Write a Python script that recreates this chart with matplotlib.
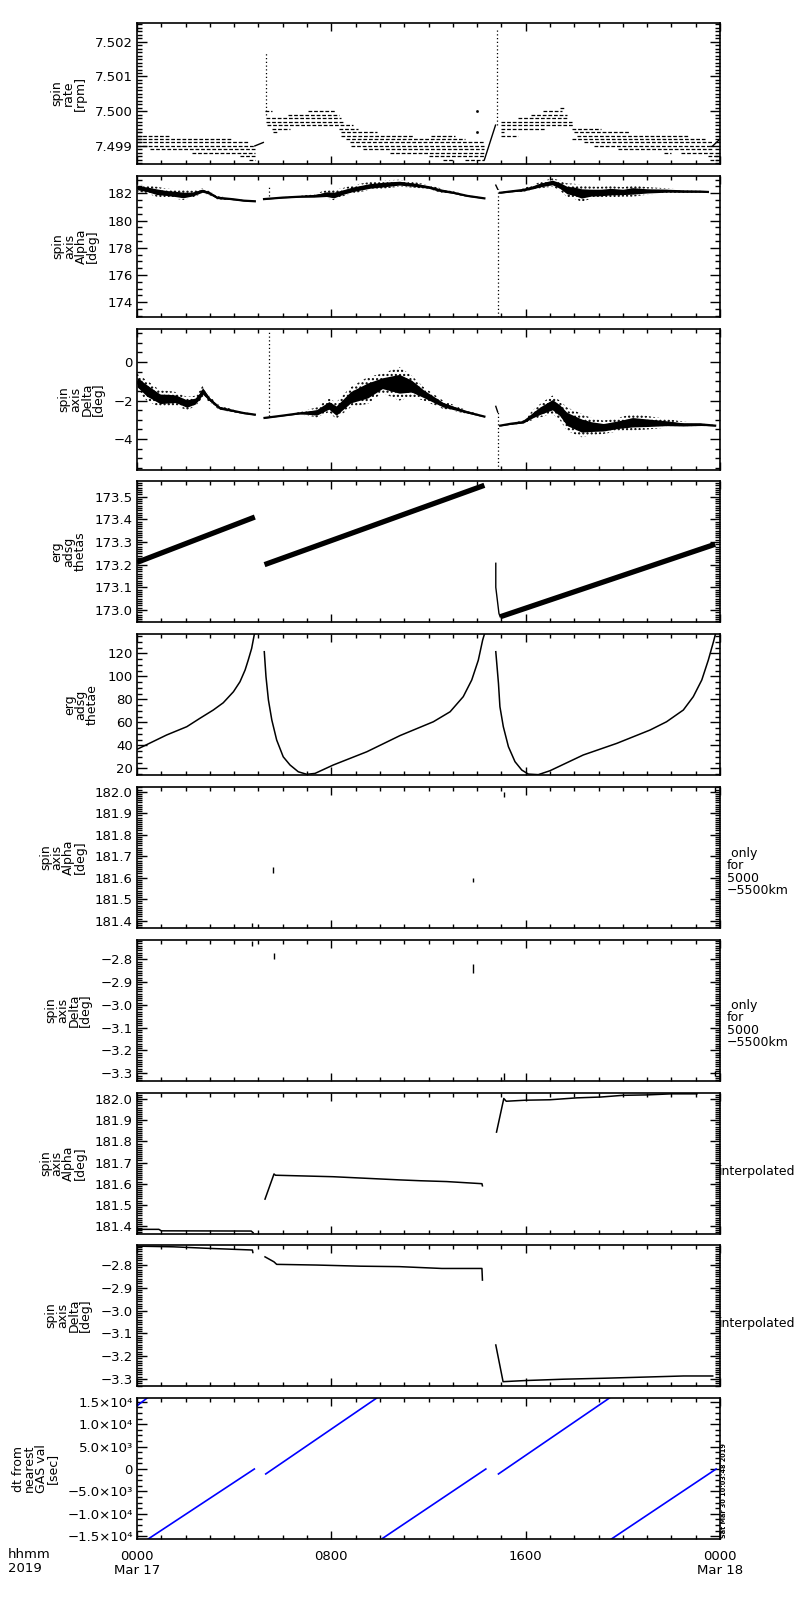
import numpy as np
import matplotlib
matplotlib.use('Agg')
import matplotlib.pyplot as plt
from matplotlib.ticker import MultipleLocator, FixedLocator, FuncFormatter, FormatStrFormatter

plt.rcParams['font.family'] = ['DejaVu Sans']
plt.rcParams['hatch.linewidth'] = 1.0

# ---------------- data (time in hours since 2019-03-17 00:00) ----------------
x_major = [0, 8, 16, 24]
x_labels = ['0000\nMar 17', '0800', '1600', '0000\nMar 18']

# panel 1: spin rate, quantised levels (segments)
rate_t0 = [0.0, 0.0, 0.0, 0.0, 0.0, 0.55, 2.25, 4.25, 4.6,
           5.25, 7.05, 6.2, 5.3, 5.3, 5.35, 5.55, 5.6,
           8.3, 8.4, 8.4, 12.1, 8.6, 8.75, 8.8, 9.3, 10.4, 12.0, 12.6, 13.5,
           17.4, 16.7, 16.2, 15.7, 15.0, 15.0, 15.0, 17.9, 15.0, 18.0, 15.0, 18.1,
           17.9, 18.4, 18.8, 19.8, 21.7, 22.4, 23.5, 23.6]
rate_t1 = [0.2, 1.3, 3.9, 4.6, 4.85, 4.85, 4.85, 4.85, 4.85,
           5.55, 8.15, 8.3, 8.4, 8.5, 8.9, 6.3, 5.8,
           9.1, 9.9, 11.4, 13.1, 13.5, 14.3, 14.3, 14.3, 14.3, 14.3, 13.0, 14.3,
           17.6, 17.5, 17.7, 17.75, 17.9, 18.0, 16.8, 19.1, 15.1, 20.3, 15.7, 22.7,
           23.4, 23.7, 23.7, 23.7, 22.0, 23.7, 23.9, 23.9]
rate_val = [7.4994, 7.4993, 7.4992, 7.4991, 7.4990, 7.4989, 7.4988, 7.4987, 7.4986,
            7.5000, 7.5000, 7.4999, 7.4998, 7.4997, 7.4996, 7.4995, 7.4994,
            7.4995, 7.4994, 7.4993, 7.4993, 7.4992, 7.4991, 7.4990, 7.4989, 7.4988, 7.4987, 7.4986, 7.4986,
            7.5001, 7.5000, 7.4999, 7.4998, 7.4997, 7.4996, 7.4995, 7.4995, 7.4994, 7.4994, 7.4993, 7.4993,
            7.4992, 7.4991, 7.4990, 7.4989, 7.4988, 7.4988, 7.4987, 7.4986]
rate_ramp_t0 = [4.85, 14.3, 23.7]
rate_ramp_v0 = [7.4990, 7.4986, 7.4990]
rate_ramp_t1 = [5.2, 14.76, 24.0]
rate_ramp_v1 = [7.4991, 7.4996, 7.4992]
rate_spk_t = [5.3, 14.8]
rate_spk_lo = [7.4999, 7.4996]
rate_spk_hi = [7.5017, 7.5024]
rate_dot_t = [14.0, 14.0]
rate_dot_v = [7.5000, 7.4994]

# panel 2: spin axis alpha (envelope of scattered points)
alpha_t1 = [0, 0.4, 0.8, 1.2, 1.6, 1.9, 2.3, 2.7, 3.0, 3.3, 3.95, 4.4, 4.85]
alpha_lo1 = [182.15, 182.0, 181.75, 181.7, 181.6, 181.51, 181.7, 182.0, 181.85, 181.56, 181.5, 181.42, 181.38]
alpha_hi1 = [182.65, 182.6, 182.49, 182.35, 182.3, 182.24, 182.2, 182.37, 182.15, 181.8, 181.63, 181.5, 181.45]
alpha_t2 = [5.23, 6.0, 6.7, 7.3, 7.8, 8.1, 8.5, 8.9, 9.6, 10.2, 10.8, 11.5, 12.0, 12.5, 13.0, 13.6, 14.3]
alpha_lo2 = [181.55, 181.65, 181.7, 181.65, 181.63, 181.5, 181.8, 182.0, 182.24, 182.35, 182.49, 182.4, 182.3, 182.05, 181.95, 181.75, 181.6]
alpha_hi2 = [181.6, 181.72, 181.8, 181.95, 182.24, 182.24, 182.4, 182.6, 182.85, 182.95, 183.0, 182.8, 182.6, 182.37, 182.15, 181.87, 181.66]
alpha_t3 = [14.95, 15.4, 15.9, 16.3, 16.6, 17.1, 17.4, 17.7, 18.0, 18.3, 18.7, 19.1, 19.5, 20.0, 20.4, 21.0, 21.8, 22.5, 23.2, 23.5]
alpha_lo3 = [182.0, 182.08, 182.12, 182.25, 182.37, 182.49, 182.2, 181.75, 181.6, 181.38, 181.6, 181.63, 181.7, 181.75, 181.75, 181.9, 182.0, 182.03, 182.05, 182.07]
alpha_hi3 = [182.08, 182.2, 182.37, 182.6, 182.85, 183.1, 182.95, 182.73, 182.7, 182.6, 182.5, 182.49, 182.55, 182.45, 182.6, 182.45, 182.37, 182.25, 182.2, 182.13]
alpha_spk_t = [5.45, 14.87]
alpha_spk_lo = [181.8, 172.9]
alpha_spk_hi = [182.6, 182.3]
alpha_hook_t = [14.77, 14.85]
alpha_hook_v = [182.6, 182.3]

# panel 3: spin axis delta (envelope)
delta_t1 = [0, 0.4, 0.95, 1.3, 1.6, 2.05, 2.4, 2.6, 2.7, 3.0, 3.4, 3.95, 4.4, 4.85]
delta_lo1 = [-1.47, -2.0, -2.35, -2.3, -2.26, -2.5, -2.3, -2.0, -1.8, -2.1, -2.5, -2.6, -2.7, -2.76]
delta_hi1 = [-0.6, -0.95, -1.47, -1.5, -1.56, -1.81, -1.75, -1.47, -1.2, -1.8, -2.26, -2.46, -2.6, -2.70]
delta_t2 = [5.25, 6.0, 6.7, 7.1, 7.4, 7.9, 8.2, 8.8, 9.5, 10.1, 10.8, 11.3, 11.8, 12.6, 13.6, 14.3]
delta_lo2 = [-2.92, -2.8, -2.72, -2.8, -2.87, -2.6, -2.95, -2.35, -2.17, -1.6, -2.0, -1.8, -2.0, -2.43, -2.69, -2.86]
delta_hi2 = [-2.88, -2.76, -2.6, -2.45, -2.35, -1.9, -2.09, -1.3, -0.78, -0.6, -0.26, -0.7, -1.3, -2.0, -2.52, -2.80]
delta_t3 = [14.95, 15.4, 15.9, 16.3, 16.6, 17.1, 17.4, 17.7, 18.3, 18.7, 19.2, 19.8, 20.4, 21.0, 21.8, 22.5, 23.2, 23.8]
delta_lo3 = [-3.32, -3.25, -3.2, -3.0, -2.87, -2.69, -3.0, -3.56, -3.9, -3.8, -3.73, -3.6, -3.56, -3.5, -3.4, -3.38, -3.34, -3.32]
delta_hi3 = [-3.28, -3.15, -3.04, -2.5, -2.17, -1.74, -2.0, -2.35, -2.69, -2.9, -3.04, -2.9, -2.69, -2.8, -2.95, -3.1, -3.13, -3.28]
delta_spk_t = [5.45, 14.87]
delta_spk_lo = [-2.8, -5.6]
delta_spk_hi = [1.65, -2.6]
delta_hook_t = [14.77, 14.85]
delta_hook_v = [-2.3, -2.6]

# panel 4: erg adsg thetas (linear drifts)
ths_t0 = [0.0, 5.25, 14.95]
ths_v0 = [173.21, 173.20, 172.97]
ths_t1 = [4.85, 14.3, 23.8]
ths_v1 = [173.41, 173.55, 173.29]
ths_drop_t = [14.77, 14.77, 14.9, 14.95]
ths_drop_v = [173.206, 173.10, 172.985, 172.97]

# panel 5: erg adsg thetae
the_t1 = [0, 1.22, 2.05, 2.59, 3.14, 3.55, 3.97, 4.24, 4.45, 4.58, 4.72, 4.83]
the_v1 = [36.5, 49, 56.2, 63.5, 70.7, 77, 86.6, 95.3, 105.5, 114.2, 124.3, 136.5]
the_t2 = [5.24, 5.31, 5.41, 5.55, 5.75, 6.02, 6.3, 6.64, 6.99, 7.33, 8.08, 9.46, 10.83,
          12.2, 12.89, 13.43, 13.78, 14.05, 14.23, 14.3]
the_v2 = [121.4, 99.7, 79.4, 62, 44.6, 30, 22.9, 17, 14.8, 15.6, 22.9, 34.4, 48.5,
          60.5, 69.2, 82.3, 96.8, 114, 131.6, 136.5]
the_t3 = [14.77, 14.88, 14.94, 15.08, 15.29, 15.56, 15.84, 16.11, 16.52, 17.0, 18.37, 19.75,
          21.12, 21.8, 22.49, 22.9, 23.25, 23.52, 23.73, 23.81]
the_v3 = [121.4, 93.9, 73.6, 56.2, 38.8, 25.8, 18.5, 15, 14.5, 17.9, 31.6, 41.7,
          53.3, 60.5, 70.7, 82.3, 96.8, 114.2, 130, 136.5]

# panel 6 / 7: values only for 5000-5500 km (short marks)
alpha_only_t = [4.75, 5.6, 13.85, 15.1, 23.8]
alpha_only_lo = [181.37, 181.62, 181.58, 181.975, 182.0]
alpha_only_hi = [181.39, 181.65, 181.60, 182.0, 182.02]
delta_only_t = [4.75, 5.64, 13.85, 15.1, 23.8]
delta_only_lo = [-2.74, -2.80, -2.86, -3.33, -3.31]
delta_only_hi = [-2.72, -2.77, -2.82, -3.30, -3.29]

# panel 8 / 9: interpolated
ialpha_t1 = [0, 0.9, 1.0, 4.7, 4.78]
ialpha_v1 = [181.384, 181.384, 181.377, 181.376, 181.368]
ialpha_t2 = [5.27, 5.64, 5.7, 8.07, 10.8, 11.65, 12.75, 14.2, 14.22]
ialpha_v2 = [181.527, 181.646, 181.640, 181.633, 181.618, 181.614, 181.61, 181.60, 181.59]
ialpha_t3 = [14.8, 15.1, 15.2, 16.0, 17.0, 18.1, 19.1, 20.0, 21.0, 22.0, 23.05]
ialpha_v3 = [181.844, 182.003, 181.99, 181.995, 181.997, 182.006, 182.01, 182.018, 182.02, 182.025, 182.025]
idelta_t1 = [0, 1.5, 3.0, 4.75, 4.77]
idelta_v1 = [-2.717, -2.72, -2.727, -2.734, -2.745]
idelta_t2 = [5.27, 5.64, 5.75, 7.4, 9.2, 10.8, 12.55, 14.2, 14.22]
idelta_v2 = [-2.764, -2.786, -2.797, -2.80, -2.805, -2.807, -2.815, -2.815, -2.866]
idelta_t3 = [14.77, 15.07, 16.0, 17.6, 19.2, 20.85, 22.5, 23.7]
idelta_v3 = [-3.151, -3.312, -3.307, -3.301, -3.297, -3.292, -3.287, -3.287]

# panel 10: dt from nearest GAS value [sec]
dt_t0 = [0.0, 0.46, 5.3, 10.07, 14.88, 19.53]
dt_v0 = [14100, -15600, -1100, -15600, -1100, -15600]
dt_t1 = [0.42, 4.83, 9.87, 14.36, 19.45, 23.84]
dt_v1 = [15830, 0, 15830, 0, 15830, 0]

ylabels = ['spin\nrate\n[rpm]', 'spin\naxis\nAlpha\n[deg]', 'spin\naxis\nDelta\n[deg]',
           'erg\nadsg\nthetas', 'erg\nadsg\nthetae', 'spin\naxis\nAlpha\n[deg]',
           'spin\naxis\nDelta\n[deg]', 'spin\naxis\nAlpha\n[deg]', 'spin\naxis\nDelta\n[deg]',
           'dt from\nnearest\nGAS val\n[sec]']
ylims = [(7.49848, 7.50254), (172.92, 183.27), (-5.6, 1.71), (172.947, 173.569), (14.2, 136.8),
         (181.366, 182.022), (-3.334, -2.715), (181.362, 182.029), (-3.331, -2.712), (-15600, 15830)]
ymajor = [0.001, 2, 2, 0.1, 20, 0.1, 0.1, 0.1, 0.1, 5000]
yminor = [0.0001, 0.5, 0.5, 0.01, 5, 0.01, 0.01, 0.01, 0.01, 1250]

# ---------------- figure ----------------
W, H = 800, 1600
fig = plt.figure(figsize=(8, 16), dpi=100)
left, right = 137, 720
tops = [23, 176, 329, 481, 634, 787, 940, 1093, 1245, 1398]
ph = 141

SUP = {'0': '⁰', '1': '¹', '2': '²', '3': '³', '4': '⁴', '5': '⁵', '6': '⁶', '7': '⁷', '8': '⁸', '9': '⁹'}


def sci_fmt(v, pos):
    if abs(v) < 1e-6:
        return '0'
    e = int(np.floor(np.log10(abs(v)) + 1e-9))
    m = abs(v) / 10 ** e
    sign = '\u2212' if v < 0 else ''
    return '%s%.1f×10%s' % (sign, m, ''.join(SUP[c] for c in str(e)))


def minus_fmt(fmt):
    return FuncFormatter(lambda v, p: (fmt % v).replace('-', '\u2212'))


fmts = [minus_fmt('%.3f'), minus_fmt('%.0f'), minus_fmt('%.0f'), minus_fmt('%.1f'), minus_fmt('%.0f'),
        minus_fmt('%.1f'), minus_fmt('%.1f'), minus_fmt('%.1f'), minus_fmt('%.1f'), FuncFormatter(sci_fmt)]

axes = []
for i, top in enumerate(tops):
    ax = fig.add_axes([left / W, 1 - (top + ph) / H, (right - left) / W, ph / H])
    ax.set_xlim(0, 24)
    ax.set_ylim(*ylims[i])
    ax.xaxis.set_major_locator(FixedLocator(x_major))
    ax.xaxis.set_minor_locator(MultipleLocator(1))
    ax.yaxis.set_major_locator(MultipleLocator(ymajor[i]))
    ax.yaxis.set_minor_locator(MultipleLocator(yminor[i]))
    ax.yaxis.set_major_formatter(fmts[i])
    ax.tick_params(which='both', direction='in', top=True, right=True, width=1.0, colors='black')
    ax.tick_params(axis='y', which='major', length=7.5, labelsize=9.5, pad=3)
    ax.tick_params(axis='y', which='minor', length=3.8)
    ax.tick_params(axis='x', which='major', length=5.5)
    ax.tick_params(axis='x', which='minor', length=3)
    if i < 9:
        ax.tick_params(axis='x', labelbottom=False)
    else:
        ax.set_xticklabels(x_labels, fontsize=9.5, linespacing=1.05)
        ax.tick_params(axis='x', which='major', pad=8)
    for s in ax.spines.values():
        s.set_linewidth(1.2)
    ax.set_ylabel(ylabels[i], fontsize=9, linespacing=0.85, labelpad=6)
    axes.append(ax)

# panel 1
ax = axes[0]
ax.hlines(rate_val, rate_t0, rate_t1, colors='black', linewidth=0.9, linestyles=(0, (3, 1.5)))
for a, b, c, d in zip(rate_ramp_t0, rate_ramp_v0, rate_ramp_t1, rate_ramp_v1):
    ax.plot([a, c], [b, d], color='black', lw=1.0)
ax.vlines(rate_spk_t, rate_spk_lo, rate_spk_hi, colors='black', linewidth=0.9, linestyles=(0, (1, 2)))
ax.plot(rate_dot_t, rate_dot_v, ls='none', marker='s', ms=0.9, color='black')


def band(ax, t, lo, hi):
    t = np.asarray(t); lo = np.asarray(lo); hi = np.asarray(hi)
    mid = (lo + hi) / 2
    q = (hi - lo) * 0.28
    ax.fill_between(t, lo, hi, facecolor='none', edgecolor='black', hatch='....', linewidth=0)
    ax.fill_between(t, mid - q, mid + q, color='black', linewidth=0)
    ax.plot(t, mid, color='black', lw=1.6)


# panel 2
ax = axes[1]
band(ax, alpha_t1, alpha_lo1, alpha_hi1)
band(ax, alpha_t2, alpha_lo2, alpha_hi2)
band(ax, alpha_t3, alpha_lo3, alpha_hi3)
ax.vlines(alpha_spk_t, alpha_spk_lo, alpha_spk_hi, colors='black', linewidth=0.9, linestyles=(0, (1, 2)))
ax.plot(alpha_hook_t, alpha_hook_v, color='black', lw=1.0)

# panel 3
ax = axes[2]
band(ax, delta_t1, delta_lo1, delta_hi1)
band(ax, delta_t2, delta_lo2, delta_hi2)
band(ax, delta_t3, delta_lo3, delta_hi3)
ax.vlines(delta_spk_t, delta_spk_lo, delta_spk_hi, colors='black', linewidth=0.9, linestyles=(0, (1, 2)))
ax.plot(delta_hook_t, delta_hook_v, color='black', lw=1.0)

# panel 4
ax = axes[3]
for a, b, c, d in zip(ths_t0, ths_v0, ths_t1, ths_v1):
    ax.plot([a, c], [b, d], color='black', lw=3.8, solid_capstyle='butt')
ax.plot(ths_drop_t, ths_drop_v, color='black', lw=1.0)

# panel 5
ax = axes[4]
ax.plot(the_t1, the_v1, color='black', lw=1.1)
ax.plot(the_t2, the_v2, color='black', lw=1.1)
ax.plot(the_t3, the_v3, color='black', lw=1.1)

# panels 6, 7
axes[5].vlines(alpha_only_t, alpha_only_lo, alpha_only_hi, colors='black', linewidth=1.0)
axes[6].vlines(delta_only_t, delta_only_lo, delta_only_hi, colors='black', linewidth=1.0)

# panels 8, 9
for tt, vv in [(ialpha_t1, ialpha_v1), (ialpha_t2, ialpha_v2), (ialpha_t3, ialpha_v3)]:
    axes[7].plot(tt, vv, color='black', lw=1.1)
for tt, vv in [(idelta_t1, idelta_v1), (idelta_t2, idelta_v2), (idelta_t3, idelta_v3)]:
    axes[8].plot(tt, vv, color='black', lw=1.1)

# panel 10
ax = axes[9]
for a, b, c, d in zip(dt_t0, dt_v0, dt_t1, dt_v1):
    ax.plot([a, c], [b, d], color='#0000ff', lw=1.2)

# side annotations
fig.text(727 / W, 1 - 872 / H, ' only\nfor\n5000\n\u22125500km', fontsize=9, linespacing=0.95,
         ha='left', va='center')
fig.text(727 / W, 1 - 1024 / H, ' only\nfor\n5000\n\u22125500km', fontsize=9, linespacing=0.95,
         ha='left', va='center')
fig.text(719 / W, 1 - 1171 / H, 'interpolated', fontsize=9, ha='left', va='center')
fig.text(719 / W, 1 - 1324 / H, 'interpolated', fontsize=9, ha='left', va='center')
fig.text(724 / W, 1 - 1538 / H, 'Sat Mar 30 10:03:48 2019', fontsize=4.7, rotation=90,
         ha='center', va='bottom', fontweight='bold')
fig.text(8 / W, 1 - 1548 / H, 'hhmm\n2019', fontsize=9.5, linespacing=1.05, ha='left', va='top')

fig.savefig('out.png', dpi=100, facecolor='white')
